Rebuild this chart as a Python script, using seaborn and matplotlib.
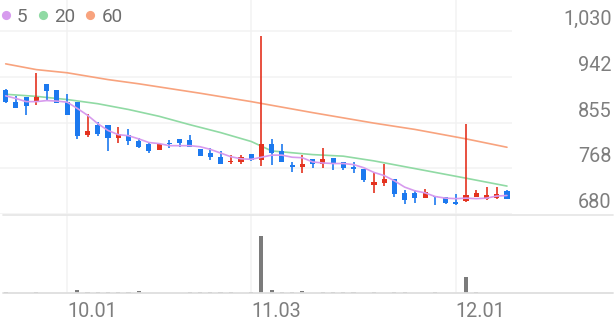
import matplotlib
matplotlib.use("Agg")
import matplotlib.pyplot as plt
import matplotlib.transforms as mtransforms
from matplotlib.lines import Line2D
import numpy as np
import pandas as pd
import seaborn as sns

# ---------------- data ----------------
opens = [918, 895, 903, 897, 928, 917, 895, 894, 831, 850,
         850, 826, 831, 820, 814, 803, 817, 823, 821, 804,
         797, 790, 779, 779, 795, 784, 814, 800, 774, 770,
         786, 776, 787, 779, 771, 766, 736, 740, 747, 721,
         721, 712, 716, 714, 704, 706, 714, 709, 711, 725]
highs = [919, 906, 904, 950, 929, 918, 909, 894, 871, 857,
         851, 847, 842, 825, 817, 814, 822, 824, 831, 805,
         806, 800, 793, 793, 795, 1020, 824, 814, 779, 793,
         786, 806, 787, 780, 779, 767, 761, 777, 747, 727,
         727, 728, 716, 714, 719, 852, 727, 732, 732, 726]
lows = [893, 882, 870, 889, 896, 892, 869, 824, 827, 829,
        800, 816, 812, 806, 798, 802, 806, 809, 809, 791,
        784, 777, 777, 777, 782, 772, 774, 779, 760, 758,
        768, 769, 765, 765, 758, 742, 720, 734, 714, 699,
        702, 711, 698, 699, 697, 704, 713, 708, 710, 709]
closes = [894, 882, 887, 904, 915, 893, 870, 829, 839, 833,
          826, 833, 819, 809, 800, 814, 814, 817, 809, 791,
          790, 777, 782, 790, 784, 814, 798, 779, 770, 777,
          776, 786, 777, 769, 766, 745, 742, 748, 718, 707,
          711, 722, 713, 702, 699, 717, 720, 717, 719, 709]
volumes = [1.5, 1.2, 1.2, 2.6, 1.2, 1.0, 1.0, 5.8, 3.0, 2.3,
           2.3, 1.5, 3.0, 3.5, 1.3, 1.2, 1.2, 1.2, 1.5, 2.5,
           2.8, 2.5, 1.5, 1.2, 2.0, 100, 5.2, 3.0, 2.5, 4.0,
           1.2, 2.5, 1.5, 1.5, 2.3, 1.3, 2.5, 1.3, 2.3, 2.3,
           1.3, 1.3, 2.3, 1.2, 1.0, 29, 2.3, 1.2, 1.2, 1.0]
ma5 = [906, 901, 895, 895, 897, 896, 894, 882, 869, 853,
       840, 832, 830, 824, 817, 815, 811, 811, 811, 809,
       804, 797, 790, 786, 785, 789, 793, 793, 789, 788,
       780, 778, 777, 777, 775, 769, 760, 754, 744, 732,
       725, 721, 714, 711, 710, 711, 710, 711, 715, 716]
ma20_idx = [0, 3, 6, 9, 12, 15, 18, 21, 24, 26, 30, 33, 36, 39, 42, 45, 49]
ma20 = [909, 905, 899, 891, 880, 867, 851, 836, 819, 801, 794, 791, 782, 771, 760, 749, 734]
ma60_idx = [0, 3, 6, 10, 13, 19, 24, 30, 36, 40, 45, 49]
ma60 = [967, 956, 950, 937, 929, 911, 895, 874, 854, 842, 824, 808]
price_ticks = [680, 768, 855, 942, 1030]
price_labels = ["680", "768", "855", "942", "1,030"]
date_pos = [6, 24, 44]
date_labels = ["10.01", "11.03", "12.01"]
ma_names = ["5", "20", "60"]

# ---------------- style ----------------
RED = "#e4321f"
BLUE = "#1c79ef"
C5, C20, C60 = "#d79bee", "#90daa4", "#f8a37e"
VOLC = "#7b7b7b"
GRID = "#f2f2f2"
TXT = "#7e7e7e"

sns.set_theme(style="white")
plt.rcParams["font.family"] = ["Roboto", "DejaVu Sans"]

W, H = 616, 321
fig = plt.figure(figsize=(W / 100, H / 100), dpi=100)
px_per_unit = 45.9 / 87.5
base_y = 214.4
ax = fig.add_axes([0, 1 - base_y / H, 512 / W, base_y / H])
vax = fig.add_axes([0, 1 - 293.3 / H, 512 / W, (293.3 - 215) / H])

idx = np.arange(len(opens))
o = np.array(opens, float); c = np.array(closes, float)
up = c >= o
cols = np.where(up, RED, BLUE)
bottoms = np.minimum(o, c)
heights = np.maximum(np.abs(c - o), 1.9)

ax.vlines(idx, lows, highs, colors=cols, lw=1.2, zorder=3)
ax.bar(idx, heights, bottom=bottoms, width=0.5, color=cols, lw=0, zorder=4)

sns.lineplot(x=ma60_idx, y=ma60, ax=ax, color=C60, lw=1.2, zorder=2)
sns.lineplot(x=ma20_idx, y=ma20, ax=ax, color=C20, lw=1.2, zorder=2)
sns.lineplot(x=idx, y=ma5, ax=ax, color=C5, lw=1.2, zorder=5)

xlim = (-5.7 / 10.23, (512 - 5.7) / 10.23)
ax.set_xlim(*xlim)
ax.set_ylim(680, 680 + base_y / px_per_unit)
ax.set_xticks(date_pos)
ax.set_xticklabels([])
ax.yaxis.tick_right()
ax.set_yticks(price_ticks)
ax.set_yticklabels(price_labels)
ax.tick_params(axis="both", length=0)
ax.tick_params(axis="y", pad=0, labelsize=14.3, labelcolor=TXT)
ax.grid(True, color=GRID, lw=1.1)
ax.set_axisbelow(True)
for s in ax.spines.values():
    s.set_visible(False)
off = mtransforms.ScaledTranslation(99.5 / 100, 6.0 / 100, fig.dpi_scale_trans)
for lab in ax.get_yticklabels():
    lab.set_horizontalalignment("right")
    lab.set_verticalalignment("baseline")
    lab.set_transform(lab.get_transform() + off)

# volume
vax.bar(idx, volumes, width=0.4, color=VOLC, lw=0, zorder=3)
vax.set_xlim(*xlim)
vax.set_ylim(0, 100 * (293.3 - 215) / 57.6)
vax.set_xticks(date_pos)
vax.set_xticklabels(date_labels)
vax.set_yticks([])
vax.tick_params(axis="x", length=0, pad=6.5, labelsize=14.3, labelcolor=TXT)
for lab in vax.get_xticklabels():
    lab.set_horizontalalignment("left")
vax.grid(True, axis="x", color=GRID, lw=1.1)
vax.set_axisbelow(True)
for s in vax.spines.values():
    s.set_visible(False)

# separators
fig.add_artist(Line2D([3 / W, 613 / W], [1 - 215 / H] * 2, color="#e7e7e7", lw=1.3))
fig.add_artist(Line2D([3 / W, 613 / W], [1 - 293.3 / H] * 2, color="#dedede", lw=1.3))

# legend
handles = [Line2D([], [], marker="o", ls="none", markersize=6.6, color=cc, markeredgewidth=0)
           for cc in (C5, C20, C60)]
fig.legend(handles, ma_names, loc="upper left", bbox_to_anchor=(0.0, 1 - 8 / H),
           ncol=3, frameon=False, handlelength=0.6, handletextpad=0.3,
           columnspacing=0.5, borderpad=0, borderaxespad=0, fontsize=13.6,
           labelcolor="#6e6e6e")

fig.savefig("out.png", dpi=100)
